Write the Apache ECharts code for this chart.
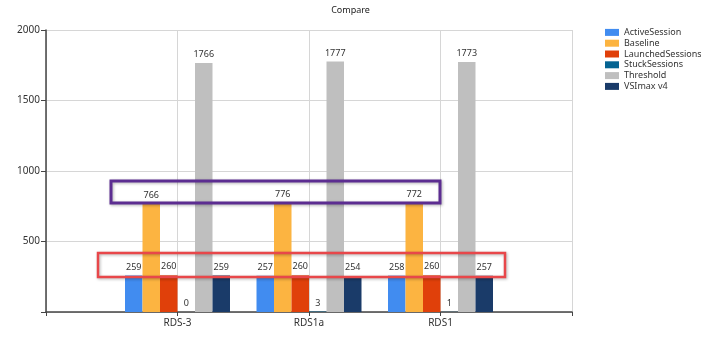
<!DOCTYPE html>
<html>
<head>
<meta charset="utf-8">
<script src="https://cdn.jsdelivr.net/npm/echarts@6/dist/echarts.min.js"></script>
<style>html,body{margin:0;padding:0;background:#fff}#c{width:701px;height:352px}</style>
</head>
<body>
<div id="c"></div>
<script>
var categories = ['RDS-3', 'RDS1a', 'RDS1'];
var activeSession = [259, 257, 258];
var baseline = [766, 776, 772];
var launchedSessions = [260, 260, 260];
var stuckSessions = [0, 3, 1];
var threshold = [1766, 1777, 1773];
var vsimax = [259, 254, 257];
var yTicks = [0, 500, 1000, 1500, 2000];

var seriesNames = ['ActiveSession', 'Baseline', 'LaunchedSessions', 'StuckSessions', 'Threshold', 'VSImax v4'];
var seriesValues = [activeSession, baseline, launchedSessions, stuckSessions, threshold, vsimax];
var colors = ['#418CF0', '#FCB441', '#E0400A', '#056492', '#BFBFBF', '#1A3B69'];

var font = 'Noto Sans';
var chart = echarts.init(document.getElementById('c'));
var axisCats = [''].concat(categories).concat(['']);

var series = seriesNames.map(function (n, i) {
  return {
    name: n,
    type: 'bar',
    barWidth: 17.5,
    barGap: '0%',
    itemStyle: { color: colors[i] },
    label: { show: true, position: 'top', distance: 4, fontSize: 9, color: '#333', fontFamily: font },
    data: [null].concat(seriesValues[i]).concat([null])
  };
});

chart.setOption({
  animation: false,
  color: colors,
  title: { text: 'Compare', left: 'center', top: 1, textStyle: { fontSize: 9, fontWeight: 'normal', color: '#222', fontFamily: font } },
  legend: {
    orient: 'vertical', left: 605, top: 27, width: 96, itemWidth: 14, itemHeight: 7, itemGap: 0,
    icon: 'rect', padding: 0,
    textStyle: { fontSize: 9, lineHeight: 10.8, color: '#333', fontFamily: font, width: 80, overflow: 'none' },
    data: seriesNames
  },
  grid: { left: 46, right: 129, top: 30, bottom: 40, containLabel: false },
  xAxis: {
    type: 'category', data: axisCats, boundaryGap: false,
    axisLine: { lineStyle: { color: '#444', width: 1.5 } },
    axisTick: { show: true, length: 4, lineStyle: { color: '#444' } },
    axisLabel: { fontSize: 10, color: '#333', margin: 6, fontFamily: font },
    splitLine: { show: true, lineStyle: { color: '#d6d6d6' } }
  },
  yAxis: {
    type: 'value', min: yTicks[0], max: yTicks[yTicks.length - 1], interval: 500,
    axisLine: { show: true, lineStyle: { color: '#444', width: 1.5 } },
    axisTick: { show: true, length: 5, lineStyle: { color: '#444' } },
    axisLabel: { fontSize: 10, color: '#333', margin: 6, fontFamily: font,
      formatter: function (v) { return v === 0 ? '' : String(v); } },
    splitLine: { show: true, lineStyle: { color: '#d6d6d6' } }
  },
  series: series,
  graphic: [
    { type: 'rect', shape: { x: 111, y: 181, width: 329, height: 22 },
      style: { fill: 'none', stroke: '#5C2D91', lineWidth: 3, shadowBlur: 3, shadowColor: 'rgba(0,0,0,0.3)', shadowOffsetX: 1, shadowOffsetY: 1 }, z: 100 },
    { type: 'rect', shape: { x: 98, y: 253, width: 407, height: 24 },
      style: { fill: 'none', stroke: '#E8474A', lineWidth: 2.5, shadowBlur: 3, shadowColor: 'rgba(0,0,0,0.3)', shadowOffsetX: 1, shadowOffsetY: 1 }, z: 100 }
  ]
});
</script>
</body>
</html>
